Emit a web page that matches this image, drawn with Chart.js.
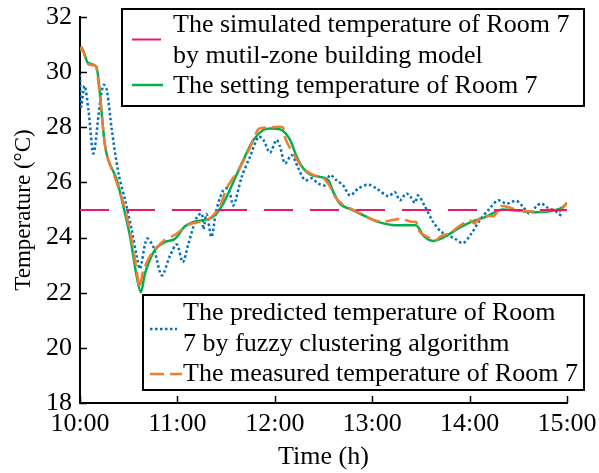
<!DOCTYPE html>
<html>
<head>
<meta charset="utf-8">
<script src="https://cdn.jsdelivr.net/npm/chart.js@4.4.0/dist/chart.umd.min.js"></script>
<style>
  body { margin: 0; background: #fff; }
  canvas { display: block; }
</style>
</head>
<body>
<canvas id="chart" width="599" height="473"></canvas>
<script>
// time in minutes after 10:00, temperatures in °C
const xTickLabels = ['10:00', '11:00', '12:00', '13:00', '14:00', '15:00'];

const simulatedTime = [0, 300];
const simulatedTemp = [25, 25];

const settingTime = [0, 1, 5, 10, 15.5, 22.7, 26.8, 30.9, 35, 37.5, 40, 46, 52.4, 58.6, 64.7, 72, 80, 84, 88.3, 94.5,
    100.6, 106.8, 112.9, 117, 123, 129.4, 133.5, 137.5, 141.7, 147.8, 153, 156, 160, 168.3, 176.6, 184.7, 194, 207,
    211.4, 217.5, 224.7, 233, 241, 250, 260.6, 270.9, 281, 291.4, 297.5, 300];
const settingTemp = [30.75, 30.87, 30.33, 30.2, 27.3, 26.08, 25.11, 24.02, 22.57, 22.02, 22.69, 23.54, 23.84, 23.96, 24.41,
    24.6, 24.69, 24.87, 25.24, 26.02, 26.81, 27.54, 27.9, 27.96, 27.93, 27.54, 26.93, 26.51, 26.29, 26.2, 26.08, 25.66,
    25.24, 24.99, 24.75, 24.55, 24.45, 24.45, 24.08, 23.88, 24.03, 24.33, 24.57, 24.75, 25.02, 24.97, 24.92, 24.97, 25.11, 25.26];

const predictedTime = [0, 0.7, 2.8, 5.2, 8.3, 12.4, 14.5, 16.5, 19.6, 23.7, 27.8, 31.9, 35, 37, 41.2, 45.2, 50.4, 55.5,
    59.6, 63.3, 66.8, 72, 75, 76, 78, 81, 84, 88.3, 91.4, 94.5, 99.6, 104.7, 110, 113, 117, 121, 123.2, 126.3, 130.4,
    134.5, 138.6, 142.7, 146.8, 150.9, 154, 158, 162, 166.3, 171.4, 177.5, 182.7, 189.9, 194, 197, 201, 204, 206.3,
    208.3, 212.4, 217.5, 222.7, 230.9, 236, 241, 246.3, 251.4, 257.5, 262.7, 268.9, 273, 277, 281.2, 284.2, 287.3, 293.5, 297.5];
const predictedTemp = [29.9, 28.75, 29.5, 28.63, 27.05, 28.93, 29.54, 29.36, 27.9, 26.33, 25.36, 24.27, 23.3, 22.87, 23.96,
    23.66, 22.63, 23.35, 23.75, 23.11, 23.78, 24.75, 24.87, 24.3, 24.85, 24.02, 25.0, 25.72, 25.78, 25.17, 26.2, 26.93,
    27.66, 27.54, 27.08, 27.54, 27.3, 26.69, 26.99, 26.51, 26.08, 26.15, 25.96, 25.9, 26.27, 26.08, 25.9, 25.53, 25.78,
    25.92, 25.78, 25.5, 25.65, 25.35, 25.6, 25.45, 25.26, 25.53, 25.14, 24.57, 24.2, 23.96, 23.8, 24.14, 24.63, 24.99,
    25.35, 25.23, 25.33, 25.11, 24.87, 25.14, 25.24, 25.11, 24.93, 24.73];

const measuredTime = [0, 1, 5, 10, 16, 22, 27, 31, 35, 36.5, 39, 44, 52, 58.6, 66.8, 74, 80, 86, 90.4, 98.6, 104.7, 110,
    117, 124.9, 126.3, 129.4, 137.5, 143.7, 150, 154, 157, 162, 170.4, 178.6, 185.8, 192, 199, 201, 204, 207, 209.4,
    218.6, 222, 228.9, 233, 240, 243, 248, 255, 259.6, 264, 271, 281, 292.4, 295, 300];
const measuredTemp = [30.8, 30.9, 30.3, 30.2, 27.1, 26.1, 25.2, 24.2, 22.8, 22.15, 22.81, 23.42, 23.9, 24.1, 24.47, 24.57,
    24.7, 25.1, 25.8, 26.55, 27.26, 27.94, 28.0, 28.0, 27.62, 27.24, 26.5, 26.27, 26.15, 25.85, 25.49, 25.19, 24.95,
    24.69, 24.57, 24.63, 24.69, 24.63, 24.57, 24.57, 24.2, 23.9, 24.03, 24.2, 24.39, 24.63, 24.51, 24.78, 24.78, 25.14,
    25.1, 24.97, 24.95, 25.02, 24.92, 25.26];

function toPoints(t, v) {
    return t.map((x, i) => ({ x: x, y: v[i] }));
}

const FONT = 'Liberation Serif, Times New Roman, serif';
Chart.defaults.font.family = FONT;
Chart.defaults.font.size = 26;
Chart.defaults.color = '#000';

// small tick marks pointing into the plot
const innerTicks = {
    id: 'innerTicks',
    afterDraw(chart) {
        const { ctx, chartArea, scales } = chart;
        ctx.save();
        ctx.strokeStyle = '#000';
        ctx.lineWidth = 1.5;
        ctx.beginPath();
        scales.x.ticks.forEach(t => {
            const px = Math.round(scales.x.getPixelForValue(t.value)) + 0.5;
            ctx.moveTo(px, chartArea.bottom);
            ctx.lineTo(px, chartArea.bottom - 7);
        });
        scales.y.ticks.forEach(t => {
            const py = Math.round(scales.y.getPixelForValue(t.value)) + 0.5;
            ctx.moveTo(chartArea.left, py);
            ctx.lineTo(chartArea.left + 7, py);
        });
        ctx.stroke();
        ctx.restore();
    }
};

// two boxed legends, drawn from the dataset styles
const legendBoxes = [
    { x: 122, y: 9, w: 462, h: 97, textX: 173,
      lines: [['The simulated temperature of Room 7', 32], ['by mutil-zone building model', 63], ['The setting temperature of Room 7', 93]],
      samples: [[0, 132, 163, 39.5], [1, 132, 163, 85]] },
    { x: 143, y: 295, w: 441, h: 95, textX: 183,
      lines: [['The predicted temperature of Room', 320], ['7 by fuzzy clustering algorithm', 351], ['The measured temperature of Room 7', 381]],
      samples: [[2, 150, 177, 329], [3, 150, 182, 374]] }
];

const boxLegend = {
    id: 'boxLegend',
    afterDraw(chart) {
        const ctx = chart.ctx;
        ctx.save();
        legendBoxes.forEach(b => {
            ctx.fillStyle = '#fff';
            ctx.fillRect(b.x, b.y, b.w, b.h);
            ctx.strokeStyle = '#000';
            ctx.lineWidth = 2;
            ctx.setLineDash([]);
            ctx.strokeRect(b.x, b.y, b.w, b.h);
            ctx.fillStyle = '#000';
            ctx.font = '26px ' + FONT;
            ctx.textBaseline = 'alphabetic';
            ctx.textAlign = 'left';
            b.lines.forEach(l => ctx.fillText(l[0], b.textX, l[1]));
            b.samples.forEach(s => {
                const ds = chart.data.datasets[s[0]];
                ctx.strokeStyle = ds.borderColor;
                ctx.lineWidth = ds.borderWidth;
                ctx.setLineDash(ds.borderDash || []);
                ctx.beginPath();
                ctx.moveTo(s[1], s[3]);
                ctx.lineTo(s[2], s[3]);
                ctx.stroke();
            });
        });
        ctx.restore();
    }
};

new Chart(document.getElementById('chart'), {
    type: 'line',
    data: {
        datasets: [
            { label: 'The simulated temperature of Room 7 by mutil-zone building model',
              data: toPoints(simulatedTime, simulatedTemp), borderColor: '#f0166e', borderWidth: 2,
              borderDash: [29, 17], order: 0 },
            { label: 'The setting temperature of Room 7',
              data: toPoints(settingTime, settingTemp), borderColor: '#00b050', borderWidth: 2.5,
              cubicInterpolationMode: 'monotone', order: 2 },
            { label: 'The predicted temperature of Room 7 by fuzzy clustering algorithm',
              data: toPoints(predictedTime, predictedTemp), borderColor: '#0070c0', borderWidth: 2.5,
              borderDash: [2.5, 2.5], tension: 0.3, order: 3 },
            { label: 'The measured temperature of Room 7',
              data: toPoints(measuredTime, measuredTemp), borderColor: '#ed7d31', borderWidth: 2.5,
              borderDash: [14, 6], tension: 0.2, order: 1 }
        ]
    },
    options: {
        responsive: false,
        animation: false,
        devicePixelRatio: 1,
        elements: { point: { radius: 0 } },
        layout: { padding: { left: 0, right: 32, top: 17, bottom: 0 } },
        plugins: { legend: { display: false }, tooltip: { enabled: false } },
        scales: {
            x: {
                type: 'linear', min: 0, max: 300,
                afterBuildTicks: s => { s.ticks = xTickLabels.map((l, i) => ({ value: i * 60 })); },
                afterFit: s => { s.height = 70; s.paddingLeft = 0; s.paddingRight = 0; },
                ticks: { padding: 6, maxRotation: 0, callback: (v, i) => xTickLabels[i] },
                grid: { drawOnChartArea: false, drawTicks: false },
                border: { color: '#000', width: 2 },
                title: { display: true, text: 'Time (h)', padding: { top: 0, bottom: 0 } }
            },
            y: {
                min: 18, max: 32,
                afterFit: s => { s.width = 80; s.paddingTop = 0; s.paddingBottom = 0; },
                ticks: { stepSize: 2, padding: 8 },
                grid: { drawOnChartArea: false, drawTicks: false },
                border: { color: '#000', width: 2 },
                title: { display: true, text: 'Temperature (°C)', font: { size: 23 }, padding: { top: 10, bottom: 0 } }
            }
        }
    },
    plugins: [innerTicks, boxLegend]
});
</script>
</body>
</html>
